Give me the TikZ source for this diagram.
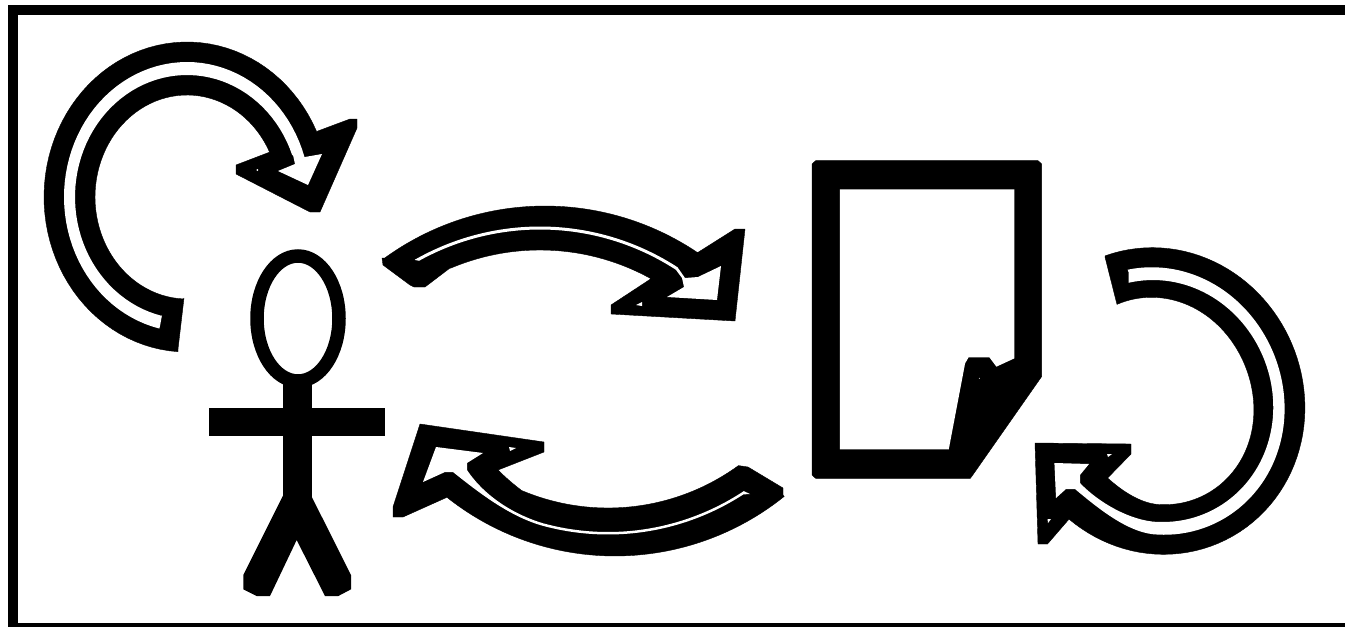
\documentclass[tikz,border=0pt]{standalone}
\tikzset{
 ellarc/.style n args={4}{insert path={-- plot[domain=#3:#4,samples=70,variable=\t] ({187+#1*cos(\t)},{197+#2*sin(\t)})}},
 circarc/.style n args={5}{insert path={-- plot[domain=#4:#5,samples=50,variable=\t] ({#1+#3*cos(\t)},{#2+#3*sin(\t)})}},
 wobarc/.style n args={4}{insert path={-- plot[domain=#3:#4,samples=80,variable=\t] ({1158+(#1+#2*cos(2*(\t-68)))*cos(\t)},{401+(#1+#2*cos(2*(\t-68)))*sin(\t)})}}
}
\begin{document}
\begin{tikzpicture}[x=1pt,y=-1pt,
  zoomC/.style={shift={(800,150)},x=0.34758pt,y=-0.33333pt},
  zoomD/.style={shift={(195,360)},x=0.33333pt,y=-0.33333pt},
  ink/.style={fill=black,draw=black,line width=0.4pt,line join=round},
  paper/.style={fill=white,draw=none}]
\useasboundingbox (0,0) rectangle (1345,627);
\fill[white] (0,0) rectangle (1345,627);
% frame
\fill[black] (8,5) rectangle (1345,15);
\fill[black] (8,5) rectangle (18,627);
\fill[black] (8,623) rectangle (1345,627);
% top-left arrow
\path[ink] (184,298) -- (178,349) [ellarc={143}{155}{93.6}{335}]
 -- (350,119) -- (357,119) -- (357,128) -- (320,212) -- (310,212) -- (236,174) -- (236,165) -- (270,152)
 [ellarc={92}{102}{334}{92}] -- cycle;
\path[paper] (162,315) -- (160,326) [ellarc={123}{135}{103}{342.8}]
 -- (322,154) -- (308,185) -- (278,171) -- (295,164) -- (293,155)
 [ellarc={112}{122}{340}{103}] -- cycle;
\fill[white] (257.3,170) circle[radius=1];
% middle upper arrow
\path[ink] (382,258) -- (383,265) -- (410,285) -- (414,287) -- (425,287) -- (450,268)
 [circarc={540}{479}{229}{247}{299}]
 -- (611,305) -- (611,314) -- (735,321) -- (745,229) -- (735,229) -- (697,253)
 [circarc={545}{479}{273}{304}{234}] -- cycle;
\path[paper] (415,260) [circarc={540}{479}{252.5}{240.3}{303}]
 -- (685,278) -- (698,277) -- (721,266) -- (717,300) -- (667,297) -- (684,287) -- (682,278)
 [circarc={540}{479}{249.5}{303}{241}] -- cycle;
\fill[white] (636,305) -- (642,302) -- (642,306) -- cycle;
% middle lower arrow
\path[ink] (420,424) -- (544,442) -- (544,452) -- (498,470) .. controls (505,477) and (513,484) .. (521,490)
 [circarc={608}{286}{222}{113}{54}]
 -- (748,467) -- (783,488) -- (783,495)
 [circarc={615}{286}{270}{51.2}{128.5}]
 -- (403,517) -- (393,517) -- (393,507) -- cycle;
\path[paper] (436,447) -- (483,453) -- (467,463) -- (467,470) .. controls (485,497) and (515,515) .. (544,523.6)
 [circarc={608}{286}{246}{105}{56.5}]
 -- (750,494)
 [circarc={608}{286}{248.5}{57}{105}]
 .. controls (510,517) and (478,492) .. (453,472) -- (445,472) -- (423,482) -- cycle;
\fill[white] (509,447) -- (516,448) -- (510,451) -- cycle;
% document
\begin{scope}[zoomC]
\path[ink] (45,32) -- (685,32) -- (695,42) -- (695,680) -- (497,975) -- (490,985) -- (45,985) -- (35,975) -- (35,42) -- cycle;
\path[paper] (115,118) -- (617,118) -- (617,625) -- (565,650) -- (545,622) -- (485,622) -- (475,640) -- (428,898) -- (115,898) -- cycle;
\fill[white] (516,685) circle[radius=1.5];
\end{scope}
% right arrow
\path[ink] (1105,257) [wobarc={150}{4.5}{-110}{127}]
 -- (1047.5,544) -- (1038,544) -- (1035,443) -- (1131,444) -- (1131,454) -- (1107.6,478)
 .. controls (1122,491) and (1140,503) .. (1158,504.5)
 [wobarc={99.5}{5.5}{90}{-113}] -- cycle;
\path[paper] (1128.5,272) [wobarc={130}{5}{-103}{90}]
 .. controls (1130,534) and (1100,510) .. (1075,489) -- (1066,489) -- (1056,498) -- (1054.4,463) -- (1089,464) -- (1080,475) -- (1080,483)
 .. controls (1098,502) and (1130,521) .. (1158,522)
 [wobarc={118}{4}{90}{-104}] -- cycle;
\fill[white] (1107,454) -- (1112,454) -- (1108,457) -- cycle;
\fill[white] (1047.5,519) -- (1051,519) -- (1048,523) -- cycle;
% person
\draw[black,line width=13.5pt] (298,318.5) ellipse[x radius=41,y radius=62.5];
\begin{scope}[zoomD]
\fill[black] (265,60) rectangle (350,420);
\fill[black] (42,143) rectangle (570,228);
\fill[black] (265,405) -- (145,645) -- (145,688) -- (185,708) -- (225,708) -- (305,540) -- (390,708) -- (430,708) -- (468,688) -- (468,645) -- (350,410) -- cycle;
\end{scope}
\end{tikzpicture}
\end{document}
